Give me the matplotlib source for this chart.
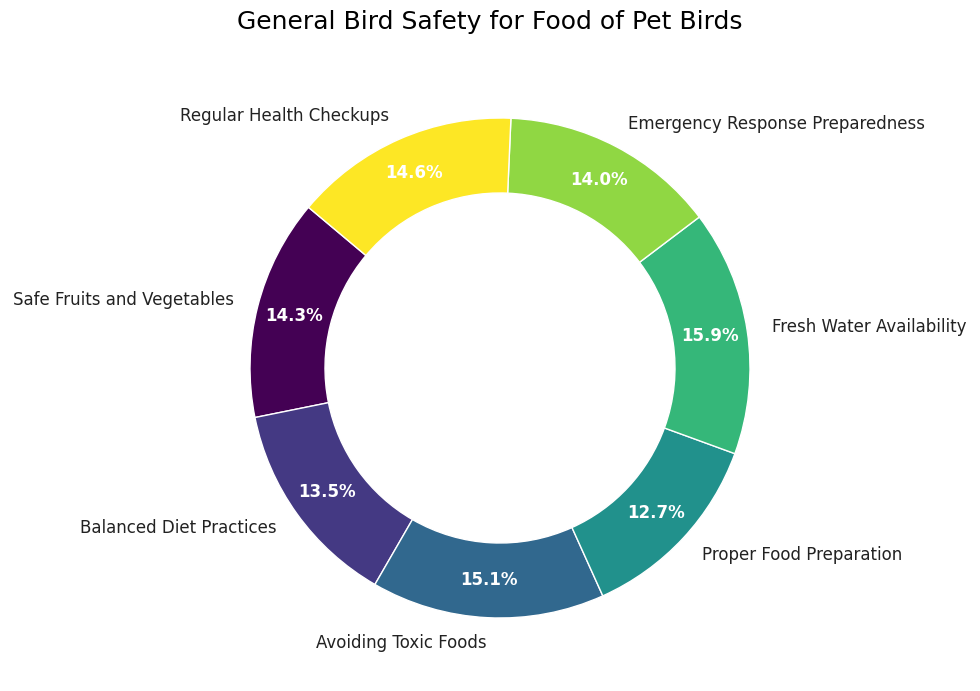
import matplotlib
matplotlib.use("Agg")
import matplotlib.pyplot as plt
import numpy as np

categories = ["Safe Fruits and Vegetables", "Balanced Diet Practices", "Avoiding Toxic Foods",
              "Proper Food Preparation", "Fresh Water Availability",
              "Emergency Response Preparedness", "Regular Health Checkups"]
values = [14.3, 13.5, 15.1, 12.7, 15.9, 14.0, 14.6]

colors = plt.cm.viridis(np.linspace(0, 1, len(values)))
fig = plt.figure(figsize=(9.8, 6.91), dpi=100)
ax = fig.add_axes([250/980, 73/691, 500/980, 500/691])
wedges, texts, autotexts = ax.pie(values, labels=categories, colors=colors, startangle=140,
                                  autopct="%1.1f%%", pctdistance=0.85,
                                  wedgeprops=dict(width=0.3, edgecolor="white"),
                                  textprops=dict(fontsize=12, color="#222222"))
for t in autotexts:
    t.set_color("white")
    t.set_fontweight("bold")
ax.set_xlim(-1, 1)
ax.set_ylim(-1, 1)
fig.text(0.5, 1 - 22/691, "General Bird Safety for Food of Pet Birds", fontsize=18,
         ha="center", va="center")
fig.savefig("out.png", dpi=100)
